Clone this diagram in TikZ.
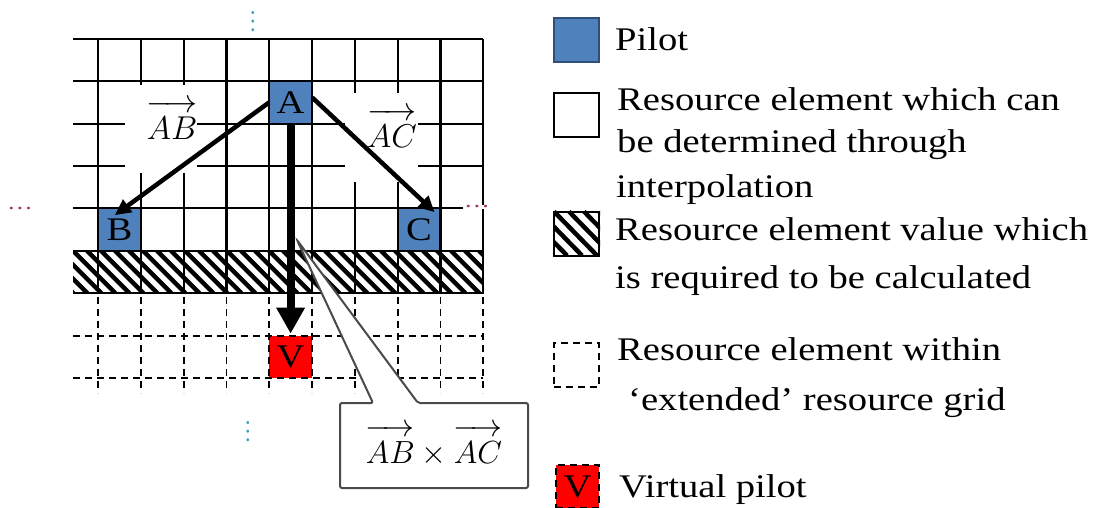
\RequirePackage{fix-cm}
\documentclass[tikz,border=0pt]{standalone}
\usepackage[no-math]{fontspec}
\setmainfont[FakeStretch=1.17]{Liberation Serif}
\usetikzlibrary{arrows.meta,calc}
\definecolor{pilotblue}{HTML}{4F81BD}
\definecolor{pilotedge}{HTML}{2F4F7A}
\definecolor{dotred}{HTML}{A8344C}
\definecolor{dotteal}{HTML}{3A9EB5}
\definecolor{calloutgray}{HTML}{4A4A4A}
\newcommand{\vecstrut}{\rule{0pt}{0.86em}}
\begin{document}
\begin{tikzpicture}[x=1pt,y=-1pt,
  gridline/.style={line width=2.2pt,draw=black},
  dashline/.style={line width=1.8pt,draw=black,dash pattern=on 7pt off 5pt},
  cell/.style={minimum width=42.8pt,minimum height=42.3pt,inner sep=0pt,font=\fontsize{33}{36}\selectfont},
  pilot/.style={cell,fill=pilotblue},
  virt/.style={cell,fill=red},
  hatchline/.style={line width=4.5pt,draw=black},
  legtext/.style={anchor=base west,inner sep=0pt,font=\fontsize{33}{36}\selectfont},
  legbox/.style={minimum width=45pt,minimum height=44pt,inner sep=0pt,line width=2pt},
  vecarrow/.style={line width=4.5pt,-{Triangle[length=16pt,width=15pt]}},
  dotsnode/.style={inner sep=0pt,font=\fontsize{22}{22}\selectfont},
  mathlabel/.style={inner sep=0pt,font=\fontsize{33}{36}\selectfont}
]
\useasboundingbox (0,0) rectangle (1100,507);

% pilot cells
\node[pilot] (A) at (290.6,102.5) {A};
\node[pilot] (B) at (119.4,229.5) {B};
\node[pilot] (C) at (419,229.5) {C};

% hatched row
\begin{scope}
  \clip (73,250.7) rectangle (483.2,293);
  \foreach \i in {-4,...,31}
    \draw[hatchline] ({73+14*\i},250.7) -- ({73+14*\i+42.3},293);
\end{scope}

% solid grid
\foreach \k in {0,...,6}
  \draw[gridline] (73,{39+42.33*\k}) -- (483.2,{39+42.33*\k});
\foreach \j in {0,...,9}
  \draw[gridline] ({98+42.8*\j},39) -- ({98+42.8*\j},294);

% extended (dashed) grid
\node[virt] (V) at (290.6,357) {V};
\foreach \yy in {336,378}
  \draw[dashline] (73,\yy) -- (483.2,\yy);
\foreach \j in {0,...,9}
  \draw[dashline] ({98+42.8*\j},297) -- ({98+42.8*\j},393);

% label backgrounds (white text boxes)
\fill[white] (125,85) rectangle (197,173);
\fill[white] (345,93) rectangle (418,182);
\node[mathlabel] (lab) at (172,120) {$\overrightarrow{\vecstrut AB}$};
\node[mathlabel] (lac) at (392,128) {$\overrightarrow{\vecstrut AC}$};

% dots
\node[dotsnode,text=dotteal,rotate=90] (dtop) at (253,22) {\ldots};
\node[dotsnode,text=dotteal,rotate=90] (dbot) at (248,432) {\ldots};
\node[dotsnode,text=dotred] (dleft) at (20,209) {\ldots};
\node[dotsnode,text=dotred,fill=white,inner sep=1pt] (dright) at (477,207) {\ldots};

% callout
\coordinate (tip) at (297,240);
\coordinate (cnw) at (340,403);
\coordinate (cse) at (528,488);
\filldraw[fill=white,draw=calloutgray,line width=2pt,rounded corners=2pt]
  (373,403) -- (tip) -- (418,403) -- (cse|-cnw) -- (cse) -- (cnw|-cse) -- (cnw) -- cycle;
\node[mathlabel,font=\fontsize{32}{36}\selectfont] (cb) at ($(cnw)!0.5!(cse)$)
  {$\overrightarrow{\vecstrut AB}\times\overrightarrow{\vecstrut AC}$};

% arrows
\draw[vecarrow] (A.west) -- ($(B.north west)+(17,7)$);
\draw[vecarrow] ($(A.east)+(0,-5)$) -- ($(C.north east)+(-6,4)$);
\draw[line width=8pt,-{Triangle[length=26pt,width=27pt]},shorten >=2pt] (A.south) -- (V.north);

% legend
\node[legbox,draw=pilotedge,fill=pilotblue] (lp) at (576.5,39.5) {};
\node[legtext] (t1) at (615,50) {Pilot};

\node[legbox,draw=black] (lw) at (576.5,115) {};
\node[legtext] (t2a) at (617,110) {Resource element which can};
\node[legtext] (t2b) at (617,152) {be determined through};
\node[legtext] (t2c) at (616,197) {interpolation};

\node[legbox] (lh) at (576.5,233.5) {};
\begin{scope}
  \clip (lh.south west) rectangle (lh.north east);
  \foreach \i in {-3,...,3}
    \draw[hatchline] ({554+15*\i},211.5) -- ({554+15*\i+43},255.5);
\end{scope}
\node[legbox,draw=black] at (lh) {};
\node[legtext] (t3a) at (615,240) {Resource element value which};
\node[legtext] (t3b) at (615,288) {is required to be calculated};

\node[legbox,dashline] (ld) at (576.5,365) {};
\node[legtext] (t4a) at (617,360) {Resource element within};
\node[legtext] (t4b) at (628,410) {‘extended’ resource grid};

\node[legbox,fill=red,dashline,minimum width=43pt,minimum height=43pt,font=\fontsize{33}{36}\selectfont] (lv) at (577.5,486.5) {V};
\node[legtext] (t5) at (619,497) {Virtual pilot};
\end{tikzpicture}
\end{document}
